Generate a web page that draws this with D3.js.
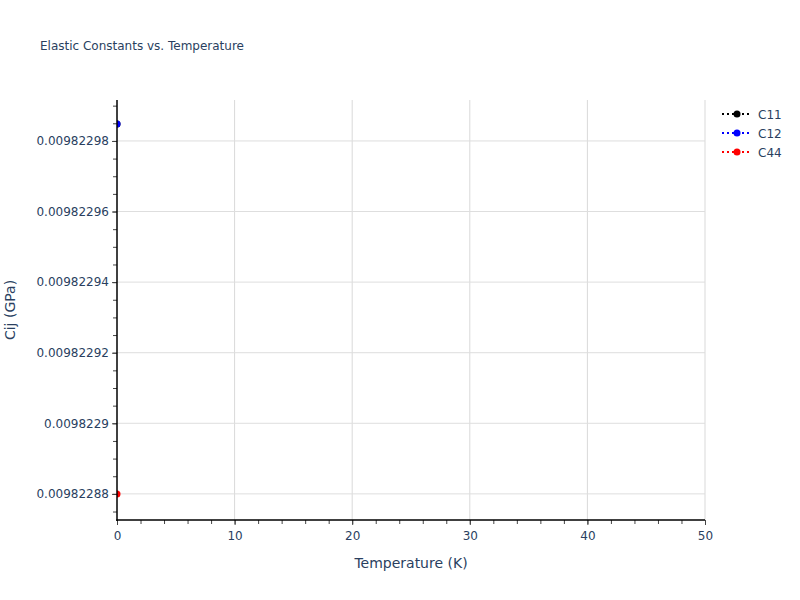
<!DOCTYPE html>
<html>
<head>
<meta charset="utf-8">
<script src="https://cdn.jsdelivr.net/npm/d3@7"></script>
<style>
  body { margin: 0; background: #fff; }
  svg { font-family: "DejaVu Sans", verdana, arial, sans-serif; }
</style>
</head>
<body>
<svg id="chart" width="800" height="600"></svg>
<script>
// data
var temperature = [0];
var seriesNames = ["C11", "C12", "C44"];
var seriesColors = ["black", "blue", "red"];
var c11 = [0.0098229848];
var c12 = [0.0098229848];
var c44 = [0.00982288];
var seriesValues = [c11, c12, c44];

var xDomain = [0, 50];
var yDomain = [0.0098228726, 0.0098229916];

const svg = d3.select("#chart");
const plotLeft = 117, plotRight = 705, plotTop = 100, plotBottom = 520;
const textColor = "#2a3f5f";
const fontFamily = "\"DejaVu Sans\", verdana, arial, sans-serif";

var x = d3.scaleLinear().domain(xDomain).range([plotLeft, plotRight]);
var y = d3.scaleLinear().domain(yDomain).range([plotBottom, plotTop]);

var xMajor = d3.range(0, 51, 10);
var xMinor = d3.range(0, 51, 2);
var yMajor = y.ticks(6);
var yMinor = y.ticks(24);

// grid
svg.append("g")
    .selectAll("line")
    .data(xMajor.filter(function (d) { return d > 0; }))
    .enter()
    .append("line")
    .attr("x1", d => x(d)).attr("x2", d => x(d))
    .attr("y1", plotTop).attr("y2", plotBottom)
    .style("stroke", "#d9d9d9").style("stroke-width", 1);

svg.append("g")
    .selectAll("line")
    .data(yMajor)
    .enter()
    .append("line")
    .attr("x1", plotLeft).attr("x2", plotRight)
    .attr("y1", d => y(d)).attr("y2", d => y(d))
    .style("stroke", "#dedede").style("stroke-width", 1);

// markers, clipped to plot area
svg.append("clipPath").attr("id", "plotclip")
    .append("rect")
    .attr("x", plotLeft).attr("y", plotTop)
    .attr("width", plotRight - plotLeft).attr("height", plotBottom - plotTop);

var plot = svg.append("g").attr("clip-path", "url(#plotclip)");
seriesValues.forEach(function (vals, i) {
  var line = d3.line().x((d, j) => x(temperature[j])).y(d => y(d));
  plot.append("path")
      .datum(vals)
      .attr("d", line)
      .style("fill", "none")
      .style("stroke", seriesColors[i])
      .style("stroke-width", 2)
      .style("stroke-dasharray", "2,3");
  plot.append("g")
      .selectAll("circle")
      .data(vals)
      .enter()
      .append("circle")
      .attr("cx", (d, j) => x(temperature[j]))
      .attr("cy", d => y(d))
      .attr("r", 3.5)
      .style("fill", seriesColors[i]);
});

// axes
var fmt = d3.format(".8~f");

var xAxis = svg.append("g").attr("transform", "translate(0," + plotBottom + ")");
xAxis.call(d3.axisBottom(x).tickValues(xMinor).tickSize(4).tickFormat(""));
xAxis.select(".domain").remove();
var xAxisMajor = svg.append("g").attr("transform", "translate(0," + plotBottom + ")")
    .call(d3.axisBottom(x).tickValues(xMajor).tickSize(5).tickPadding(6).tickFormat(d3.format("d")));
xAxisMajor.select(".domain").remove();

var yAxis = svg.append("g").attr("transform", "translate(" + plotLeft + ",0)");
yAxis.call(d3.axisLeft(y).tickValues(yMinor).tickSize(4).tickFormat(""));
yAxis.select(".domain").remove();
var yAxisMajor = svg.append("g").attr("transform", "translate(" + plotLeft + ",0)")
    .call(d3.axisLeft(y).tickValues(yMajor).tickSize(5).tickPadding(3).tickFormat(fmt));
yAxisMajor.select(".domain").remove();

svg.selectAll(".tick line").style("stroke", "#444");
svg.selectAll(".tick text").style("fill", textColor).style("font-size", "12px")
    .style("font-family", fontFamily);

svg.append("line").attr("x1", plotLeft).attr("x2", plotLeft).attr("y1", plotTop).attr("y2", plotBottom + 1)
    .style("stroke", "black").style("stroke-width", 1.5);
svg.append("line").attr("x1", plotLeft - 0.75).attr("x2", plotRight).attr("y1", plotBottom).attr("y2", plotBottom)
    .style("stroke", "black").style("stroke-width", 1.5);

// titles
svg.append("text").attr("x", 40).attr("y", 50)
    .text("Elastic Constants vs. Temperature")
    .style("font-size", "12px").style("fill", textColor);

svg.append("text").attr("x", (plotLeft + plotRight) / 2).attr("y", 568)
    .attr("text-anchor", "middle")
    .text("Temperature (K)")
    .style("font-size", "14px").style("fill", textColor);

svg.append("text")
    .attr("transform", "translate(15," + ((plotTop + plotBottom) / 2) + ") rotate(-90)")
    .attr("text-anchor", "middle")
    .text("Cij (GPa)")
    .style("font-size", "14px").style("fill", textColor);

// legend
var legend = svg.append("g")
    .selectAll("g")
    .data(seriesNames)
    .enter()
    .append("g")
    .attr("transform", (d, i) => "translate(722," + (114 + i * 19) + ")");
legend.append("line")
    .attr("x1", 0).attr("x2", 30).attr("y1", 0).attr("y2", 0)
    .style("stroke", (d, i) => seriesColors[i])
    .style("stroke-width", 2)
    .style("stroke-dasharray", "2,3");
legend.append("circle").attr("cx", 15).attr("cy", 0).attr("r", 3.5)
    .style("fill", (d, i) => seriesColors[i]);
legend.append("text").attr("x", 36).attr("y", 4.5)
    .text(d => d)
    .style("font-size", "12px").style("fill", textColor);
</script>
</body>
</html>
